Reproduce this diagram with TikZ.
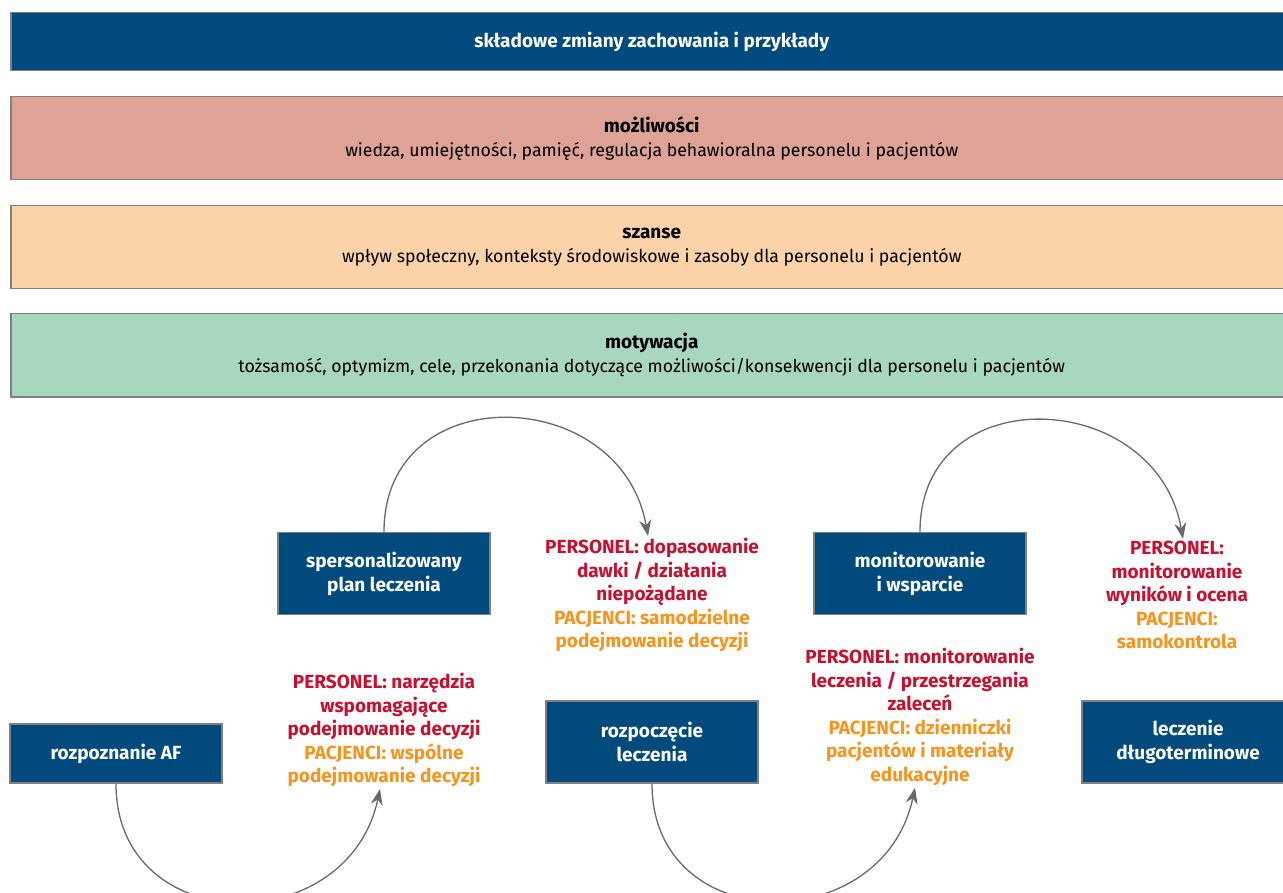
\documentclass[tikz,border=0pt]{standalone}
\usepackage{fontspec}
\setmainfont{Fira Sans}
\usetikzlibrary{positioning, arrows.meta}

\definecolor{navy}{RGB}{1,74,126}
\definecolor{rosebar}{RGB}{222,163,150}
\definecolor{peachbar}{RGB}{252,210,168}
\definecolor{mintbar}{RGB}{168,214,190}
\definecolor{staffred}{RGB}{200,16,46}
\definecolor{patorange}{RGB}{247,148,29}
\definecolor{framegray}{RGB}{128,128,128}
\definecolor{arcgray}{RGB}{105,105,105}

\tikzset{
  bar/.style={draw=framegray, line width=1.5pt, anchor=north west, inner sep=0pt,
    minimum width=1282pt, minimum height=83pt, align=center,
    font=\fontsize{17.7}{24}\selectfont},
  stagebox/.style={draw=framegray, line width=1.5pt, fill=navy, text=white,
    minimum width=212pt, minimum height=82pt, align=center,
    font=\fontsize{19}{24}\selectfont\bfseries},
  example/.style={align=center, inner sep=2pt,
    font=\fontsize{19}{23.5}\selectfont\bfseries},
  flowarc/.style={draw=arcgray, line width=1.3pt}
}

\begin{document}
\begin{tikzpicture}[x=1pt,y=-1pt,on grid,>={Stealth[length=16pt,width=12pt]}]
\useasboundingbox (0,0) rectangle (1283,893);

% components of behaviour change
\node[bar, fill=navy, minimum height=58pt, text=white, font=\fontsize{19}{24}\selectfont\bfseries]
  (title) at (10,12) {składowe zmiany zachowania i przykłady};
\node[bar, fill=rosebar] (capab) at (10,96)
  {\textbf{\fontsize{19}{24}\selectfont możliwości}\\wiedza, umiejętności, pamięć, regulacja behawioralna personelu i pacjentów};
\node[bar, fill=peachbar] (oppor) at (10,205)
  {\textbf{\fontsize{19}{24}\selectfont szanse}\\wpływ społeczny, konteksty środowiskowe i zasoby dla personelu i pacjentów};
\node[bar, fill=mintbar] (motiv) at (10,313)
  {\textbf{\fontsize{19}{24}\selectfont motywacja}\\tożsamość, optymizm, cele, przekonania dotyczące możliwości/konsekwencji dla personelu i pacjentów};

% stages of the pathway
\node[stagebox, minimum height=59pt] (diag) at (116,753.5) {rozpoznanie AF};
\node[stagebox] (plan) [above right=180pt and 268pt of diag] {spersonalizowany\\plan leczenia};
\node[stagebox] (start) [below right=168.5pt and 268pt of plan] {rozpoczęcie\\leczenia};
\node[stagebox] (monit) [above right=168.5pt and 268pt of start] {monitorowanie\\i wsparcie};
\node[stagebox] (longt) [below right=168.5pt and 268pt of monit] {leczenie\\długoterminowe};

% examples for staff and patients
\node[example] (ex_1) [below=156.5pt of plan]
  {\textcolor{staffred}{PERSONEL: narzędzia}\\\textcolor{staffred}{wspomagające}\\\textcolor{staffred}{podejmowanie decyzji}\\
   \textcolor{patorange}{PACJENCI: wspólne}\\\textcolor{patorange}{podejmowanie decyzji}};
\node[example] (ex_2) [above=147pt of start]
  {\textcolor{staffred}{PERSONEL: dopasowanie}\\\textcolor{staffred}{dawki / działania}\\\textcolor{staffred}{niepożądane}\\
   \textcolor{patorange}{PACJENCI: samodzielne}\\\textcolor{patorange}{podejmowanie decyzji}};
\node[example] (ex_3) [below=143.5pt of monit]
  {\textcolor{staffred}{PERSONEL: monitorowanie}\\\textcolor{staffred}{leczenia / przestrzegania}\\\textcolor{staffred}{zaleceń}\\
   \textcolor{patorange}{PACJENCI: dzienniczki}\\\textcolor{patorange}{pacjentów i materiały}\\\textcolor{patorange}{edukacyjne}};
\node[example] (ex_4) [above=147pt of longt, xshift=-11pt]
  {\textcolor{staffred}{PERSONEL:}\\\textcolor{staffred}{monitorowanie}\\\textcolor{staffred}{wyników i ocena}\\
   \textcolor{patorange}{PACJENCI:}\\\textcolor{patorange}{samokontrola}};

\path[->]
  (diag.south) edge[flowarc, out=-90, in=-102, looseness=1.5] ([xshift=-4pt]ex_1.south)
  (plan.north) edge[flowarc, out=90, in=100, looseness=1.5] ([xshift=-4pt]ex_2.north)
  (start.south) edge[flowarc, out=-90, in=-102, looseness=1.5] ([xshift=-5pt]ex_3.south)
  (monit.north) edge[flowarc, out=90, in=100, looseness=1.5] ([xshift=6pt]ex_4.north);
\end{tikzpicture}
\end{document}
